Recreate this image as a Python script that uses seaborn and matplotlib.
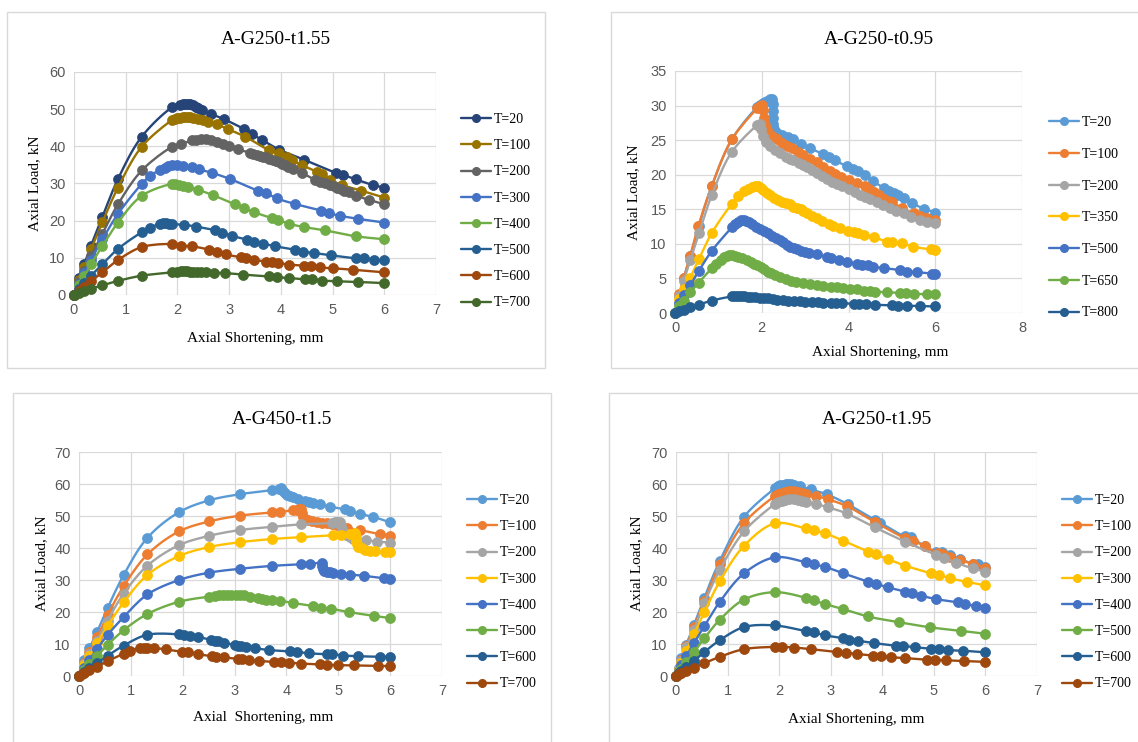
import numpy as np
import matplotlib
matplotlib.use("Agg")
import matplotlib.pyplot as plt
from matplotlib.lines import Line2D
from matplotlib.patches import Rectangle
import seaborn as sns

# ---------------- A-G250-t1.55 (axial shortening mm, axial load kN) ----------------
g155_t20 = [(0,0),(0.1,4.5),(0.2,8.3),(0.33,13.3),(0.55,21.0),(0.85,31.2),(1.31,42.6),(1.9,50.5),(2.05,51.2),(2.1,51.4),(2.15,51.5),(2.2,51.4),(2.25,51.3),(2.3,51.0),(2.35,50.7),(2.4,50.3),(2.48,49.7),(2.65,48.7),(2.9,47.3),(3.28,44.7),(3.44,43.3),(3.64,41.7),(3.97,39.1),(4.45,36.4),(5.06,32.9),(5.21,32.3),(5.45,31.1),(5.78,29.6),(6.0,28.9)]
g155_t100 = [(0,0),(0.1,4.0),(0.2,7.6),(0.33,12.3),(0.55,19.6),(0.85,28.9),(1.31,39.9),(1.9,47.1),(1.95,47.4),(2.0,47.6),(2.05,47.7),(2.1,47.8),(2.15,47.9),(2.2,47.9),(2.25,47.8),(2.3,47.7),(2.4,47.4),(2.5,47.0),(2.6,46.5),(2.76,45.9),(2.97,44.7),(3.31,42.6),(3.78,38.9),(3.97,38.1),(4.11,37.2),(4.21,36.3),(4.4,35.0),(4.69,33.2),(4.79,32.6),(4.95,31.0),(5.18,29.6),(5.55,28.1),(6.0,26.2)]
g155_t200 = [(0,0),(0.1,3.4),(0.2,6.5),(0.33,10.5),(0.55,16.5),(0.85,24.4),(1.31,33.5),(1.9,39.9),(2.06,40.6),(2.28,41.6),(2.35,41.8),(2.45,41.9),(2.55,41.9),(2.65,41.7),(2.76,41.3),(2.88,40.6),(2.99,40.1),(3.17,39.2),(3.4,38.3),(3.47,37.9),(3.53,37.7),(3.6,37.4),(3.66,37.2),(3.72,37.0),(3.78,36.7),(3.84,36.4),(3.9,36.1),(3.96,35.7),(4.02,35.3),(4.08,34.9),(4.14,34.4),(4.24,33.8),(4.4,32.9),(4.66,31.0),(4.76,30.5),(4.85,30.0),(4.95,29.6),(5.02,29.2),(5.09,28.8),(5.16,28.4),(5.23,28.0),(5.31,27.6),(5.45,26.7),(5.71,25.6),(6.0,24.4)]
g155_t300 = [(0,0),(0.1,3.0),(0.2,5.8),(0.33,9.5),(0.55,15.0),(0.85,21.8),(1.31,29.9),(1.46,31.9),(1.66,33.7),(1.75,34.3),(1.82,34.7),(1.9,35.0),(2.0,34.9),(2.11,34.7),(2.28,34.5),(2.42,33.8),(2.66,32.9),(3.02,31.2),(3.55,28.1),(3.71,27.4),(3.92,26.0),(4.27,24.5),(4.78,22.7),(4.93,22.0),(5.15,21.3),(5.49,20.5),(6.0,19.5)]
g155_t400 = [(0,0),(0.1,2.6),(0.2,5.0),(0.33,8.3),(0.55,13.2),(0.85,19.5),(1.31,26.7),(1.9,29.9),(1.96,29.8),(2.03,29.6),(2.1,29.3),(2.21,29.0),(2.4,28.3),(2.68,26.9),(3.11,24.4),(3.28,23.4),(3.48,22.3),(3.82,20.7),(3.95,20.2),(4.15,19.2),(4.44,18.3),(4.85,17.4),(5.45,15.8),(6.0,15.0)]
g155_t500 = [(0,0),(0.1,1.6),(0.2,3.2),(0.33,5.2),(0.55,8.3),(0.85,12.4),(1.31,16.9),(1.46,18.0),(1.66,19.2),(1.72,19.3),(1.78,19.3),(1.84,19.2),(1.9,19.1),(2.13,18.9),(2.36,18.4),(2.73,17.4),(2.86,16.8),(3.05,15.9),(3.35,14.9),(3.48,14.3),(3.65,13.8),(3.89,13.1),(4.27,12.2),(4.42,11.7),(4.64,11.3),(4.96,10.7),(5.45,9.9),(5.6,9.9),(5.8,9.5),(6.0,9.3)]
g155_t600 = [(0,0),(0.1,1.1),(0.2,2.2),(0.33,3.7),(0.55,6.1),(0.85,9.4),(1.31,12.9),(1.9,13.7),(2.06,13.3),(2.28,13.1),(2.62,12.2),(2.76,11.7),(2.93,10.9),(3.22,10.2),(3.33,9.9),(3.48,9.5),(3.71,9.0),(3.82,8.9),(3.95,8.6),(4.15,8.2),(4.44,7.9),(4.58,7.7),(4.75,7.4),(5.0,7.2),(5.39,6.8),(6.0,6.1)]
g155_t700 = [(0,0),(0.1,0.6),(0.2,1.1),(0.33,1.7),(0.55,2.6),(0.85,3.8),(1.31,5.2),(1.9,6.1),(2.0,6.3),(2.06,6.4),(2.12,6.4),(2.18,6.4),(2.24,6.3),(2.3,6.3),(2.38,6.2),(2.46,6.2),(2.55,6.1),(2.7,6.0),(2.92,5.9),(3.26,5.5),(3.78,5.0),(3.92,4.8),(4.15,4.6),(4.47,4.2),(4.6,4.2),(4.79,3.9),(5.08,3.7),(5.5,3.5),(6.0,3.2)]
g155_labels = ["T=20", "T=100", "T=200", "T=300", "T=400", "T=500", "T=600", "T=700"]

# ---------------- A-G250-t0.95 ----------------
g095_t20 = [(0,0),(0.1,2.4),(0.2,5.0),(0.35,8.2),(0.55,12.6),(0.85,18.4),(1.31,25.1),(1.9,29.8),(1.97,30.1),(2.03,30.3),(2.08,30.5),(2.13,30.7),(2.18,30.9),(2.23,31.0),(2.25,30.2),(2.25,29.2),(2.26,28.2),(2.26,27.3),(2.28,26.6),(2.35,26.1),(2.46,25.8),(2.6,25.4),(2.73,25.1),(2.9,24.5),(3.12,23.8),(3.42,23.0),(3.55,22.6),(3.69,22.1),(3.96,21.2),(4.1,20.8),(4.23,20.5),(4.38,19.9),(4.56,19.1),(4.81,18.1),(4.93,17.7),(5.04,17.3),(5.15,17.0),(5.27,16.6),(5.46,15.9),(5.73,15.1),(6.0,14.5)]
g095_t100 = [(0,0),(0.1,2.7),(0.2,5.0),(0.35,8.2),(0.54,12.6),(0.85,18.4),(1.31,25.1),(1.9,29.6),(1.96,29.9),(2.0,30.1),(2.03,29.3),(2.05,28.2),(2.08,27.2),(2.13,26.5),(2.23,25.6),(2.35,25.1),(2.47,24.6),(2.58,24.2),(2.7,23.8),(2.83,23.3),(2.96,22.8),(3.12,22.3),(3.27,21.8),(3.42,21.1),(3.58,20.5),(3.7,20.1),(3.82,19.7),(4.0,19.3),(4.2,18.8),(4.38,18.4),(4.48,17.9),(4.58,17.5),(4.7,17.0),(4.81,16.5),(4.9,16.2),(5.0,16.0),(5.23,15.2),(5.5,14.4),(5.65,14.0),(5.81,13.7),(6.0,13.4)]
g095_t200 = [(0,0),(0.1,2.4),(0.2,4.6),(0.35,7.6),(0.55,11.5),(0.85,17.1),(1.31,23.3),(1.9,27.2),(1.95,27.4),(1.99,26.6),(2.04,25.6),(2.1,24.8),(2.19,24.1),(2.3,23.6),(2.42,23.1),(2.55,22.6),(2.65,22.3),(2.73,22.1),(2.85,21.7),(2.95,21.4),(3.04,21.1),(3.15,20.7),(3.27,20.2),(3.38,19.8),(3.5,19.4),(3.62,18.9),(3.73,18.6),(3.85,18.3),(4.0,17.9),(4.15,17.5),(4.27,17.1),(4.38,16.8),(4.5,16.5),(4.65,16.1),(4.8,15.6),(4.96,15.2),(5.1,14.8),(5.27,14.4),(5.45,13.9),(5.65,13.5),(5.82,13.2),(6.0,13.0)]
g095_t350 = [(0,0),(0.1,2.0),(0.2,3.4),(0.35,5.1),(0.55,7.8),(0.85,11.6),(1.31,15.8),(1.46,16.9),(1.6,17.6),(1.69,17.9),(1.77,18.2),(1.85,18.4),(1.92,18.3),(1.98,18.1),(2.04,17.8),(2.12,17.4),(2.2,17.0),(2.28,16.7),(2.37,16.4),(2.46,16.1),(2.55,15.9),(2.64,15.7),(2.73,15.4),(2.82,15.2),(2.9,15.0),(2.96,14.7),(3.05,14.4),(3.15,14.1),(3.27,13.7),(3.4,13.3),(3.54,12.9),(3.65,12.6),(3.81,12.3),(3.98,11.9),(4.12,11.7),(4.22,11.5),(4.35,11.3),(4.58,11.0),(4.88,10.3),(5.0,10.2),(5.23,10.1),(5.48,9.6),(5.9,9.2),(6.0,9.1)]
g095_t500 = [(0,0),(0.1,1.5),(0.2,2.6),(0.35,4.0),(0.55,6.1),(0.85,9.0),(1.31,12.4),(1.38,12.9),(1.45,13.2),(1.52,13.4),(1.58,13.4),(1.64,13.3),(1.7,13.1),(1.78,12.8),(1.87,12.5),(1.96,12.1),(2.05,11.8),(2.14,11.5),(2.23,11.2),(2.32,10.9),(2.41,10.6),(2.5,10.2),(2.58,9.9),(2.66,9.6),(2.74,9.4),(2.81,9.2),(2.9,9.0),(3.0,8.8),(3.1,8.7),(3.27,8.5),(3.5,8.1),(3.6,8.0),(3.77,7.7),(3.96,7.4),(4.2,7.1),(4.31,7.0),(4.45,6.9),(4.56,6.7),(4.81,6.5),(5.19,6.2),(5.35,6.0),(5.58,5.9),(5.92,5.7),(6.0,5.7)]
g095_t650 = [(0,0),(0.1,1.0),(0.2,1.8),(0.35,3.0),(0.55,4.4),(0.85,6.5),(0.95,7.1),(1.05,7.7),(1.12,8.1),(1.19,8.3),(1.25,8.4),(1.31,8.4),(1.38,8.3),(1.46,8.1),(1.55,7.9),(1.65,7.7),(1.75,7.4),(1.83,7.1),(1.9,6.9),(1.98,6.6),(2.06,6.3),(2.14,6.0),(2.22,5.8),(2.31,5.5),(2.42,5.2),(2.55,4.9),(2.68,4.7),(2.8,4.5),(2.95,4.3),(3.12,4.2),(3.27,4.0),(3.42,3.9),(3.6,3.8),(3.73,3.7),(3.88,3.6),(4.04,3.5),(4.2,3.4),(4.35,3.2),(4.5,3.2),(4.62,3.1),(4.88,3.0),(5.19,2.9),(5.32,2.9),(5.5,2.8),(5.81,2.7),(6.0,2.7)]
g095_t800 = [(0,0),(0.1,0.3),(0.2,0.5),(0.35,0.8),(0.55,1.2),(0.85,1.8),(1.31,2.4),(1.38,2.45),(1.45,2.45),(1.52,2.45),(1.6,2.4),(1.68,2.35),(1.76,2.3),(1.85,2.25),(1.95,2.2),(2.05,2.15),(2.15,2.1),(2.25,2.05),(2.35,1.95),(2.48,1.9),(2.6,1.8),(2.75,1.75),(2.88,1.7),(3.0,1.65),(3.15,1.6),(3.3,1.55),(3.42,1.5),(3.6,1.45),(3.72,1.45),(3.85,1.4),(4.12,1.35),(4.25,1.3),(4.4,1.3),(4.6,1.2),(5.0,1.1),(5.15,1.05),(5.35,1.05),(5.65,1.0),(6.0,0.95)]
g095_labels = ["T=20", "T=100", "T=200", "T=350", "T=500", "T=650", "T=800"]

# ---------------- A-G450-t1.5 ----------------
g450_t20 = [(0,0),(0.1,5.0),(0.2,8.6),(0.35,13.8),(0.55,21.2),(0.86,31.5),(1.32,43.2),(1.93,51.2),(2.51,54.9),(3.1,56.8),(3.72,58.1),(3.85,58.5),(3.9,58.6),(3.93,57.8),(3.97,57.1),(4.02,56.6),(4.07,56.2),(4.13,55.9),(4.22,55.4),(4.36,54.8),(4.44,54.4),(4.51,54.0),(4.65,53.6),(4.84,52.9),(5.13,52.1),(5.23,51.5),(5.41,50.7),(5.66,49.8),(6.0,48.0)]
g450_t100 = [(0,0),(0.1,4.2),(0.2,7.5),(0.35,12.2),(0.55,19.0),(0.86,28.0),(1.32,38.0),(1.93,45.2),(2.51,48.3),(3.1,50.1),(3.72,51.1),(3.88,51.3),(4.13,51.8),(4.2,52.0),(4.25,52.1),(4.29,52.3),(4.3,51.0),(4.31,49.8),(4.36,49.2),(4.42,48.9),(4.5,48.5),(4.58,48.2),(4.68,47.9),(4.78,47.7),(4.88,47.4),(4.97,47.2),(5.16,46.1),(5.41,45.6),(5.81,44.3),(6.0,43.9)]
g450_t200 = [(0,0),(0.1,3.8),(0.2,6.8),(0.35,11.0),(0.55,17.3),(0.86,25.7),(1.32,34.5),(1.93,40.9),(2.51,43.8),(3.1,45.6),(3.72,46.6),(4.29,47.4),(4.88,47.8),(4.93,48.0),(4.98,48.1),(5.03,48.2),(5.05,47.0),(5.07,45.9),(5.1,45.0),(5.15,44.2),(5.22,43.3),(5.29,42.7),(5.54,42.4),(5.74,42.0),(6.0,41.7)]
g450_t300 = [(0,0),(0.1,3.3),(0.2,6.1),(0.35,10.3),(0.55,15.6),(0.86,23.0),(1.32,31.6),(1.93,37.5),(2.51,40.3),(3.1,41.8),(3.72,42.8),(4.29,43.4),(4.9,44.0),(5.05,44.0),(5.22,44.3),(5.32,44.6),(5.34,43.5),(5.35,42.3),(5.36,41.2),(5.38,40.3),(5.45,39.9),(5.52,39.5),(5.62,39.2),(5.71,39.0),(5.9,38.8),(6.0,38.6)]
g450_t400 = [(0,0),(0.1,2.6),(0.2,5.0),(0.35,8.5),(0.55,12.8),(0.86,18.4),(1.32,25.5),(1.93,30.0),(2.51,32.3),(3.1,33.5),(3.72,34.4),(4.29,34.9),(4.46,34.9),(4.68,35.4),(4.69,34.3),(4.7,33.3),(4.73,32.8),(4.78,32.6),(4.84,32.4),(4.9,32.2),(5.05,32.0),(5.23,31.7),(5.5,31.3),(5.89,30.5),(6.0,30.3)]
g450_t500 = [(0,0),(0.1,2.0),(0.2,3.8),(0.35,6.3),(0.55,9.7),(0.86,14.3),(1.32,19.4),(1.93,23.2),(2.51,24.8),(2.62,25.0),(2.7,25.2),(2.78,25.3),(2.86,25.3),(2.94,25.3),(3.02,25.3),(3.1,25.3),(3.18,25.2),(3.3,24.8),(3.45,24.3),(3.52,24.0),(3.6,23.8),(3.72,23.7),(3.88,23.5),(4.13,22.8),(4.51,21.9),(4.66,21.4),(4.86,21.0),(5.2,20.0),(5.68,18.8),(6.0,18.1)]
g450_t600 = [(0,0),(0.1,1.3),(0.2,2.5),(0.35,4.0),(0.55,6.3),(0.86,9.5),(1.32,12.9),(1.93,13.0),(2.03,12.8),(2.15,12.5),(2.3,12.2),(2.54,11.3),(2.62,11.0),(2.68,10.8),(2.8,10.4),(3.0,9.7),(3.07,9.5),(3.12,9.3),(3.23,9.1),(3.39,8.7),(3.67,8.1),(4.06,7.7),(4.2,7.5),(4.44,7.1),(4.78,6.8),(4.88,6.8),(5.09,6.4),(5.38,6.2),(5.81,6.0),(6.0,6.0)]
g450_t700 = [(0,0),(0.05,0.6),(0.1,1.0),(0.2,1.8),(0.35,2.9),(0.55,4.6),(0.86,7.0),(0.98,7.9),(1.17,8.7),(1.25,8.8),(1.32,8.8),(1.45,8.8),(1.67,8.3),(1.98,7.6),(2.1,7.4),(2.29,6.8),(2.56,6.2),(2.64,6.0),(2.8,5.8),(3.07,5.3),(3.15,5.2),(3.28,5.0),(3.48,4.7),(3.76,4.4),(3.89,4.3),(4.04,4.2),(4.28,3.9),(4.65,3.6),(4.79,3.5),(4.99,3.4),(5.31,3.3),(5.76,3.2),(6.0,3.1)]
g450_labels = ["T=20", "T=100", "T=200", "T=300", "T=400", "T=500", "T=600", "T=700"]

# ---------------- A-G250-t1.95 ----------------
g195_t20 = [(0,0),(0.05,2.5),(0.1,5.5),(0.2,9.8),(0.35,16.0),(0.55,24.5),(0.85,36.0),(1.32,49.8),(1.92,58.7),(1.97,59.3),(2.02,59.6),(2.08,59.8),(2.13,59.9),(2.18,60.0),(2.23,59.9),(2.28,59.8),(2.4,59.3),(2.61,58.3),(2.92,56.8),(3.34,53.6),(3.85,48.8),(3.96,47.9),(4.44,43.6),(4.56,43.3),(4.82,40.5),(5.05,38.6),(5.15,38.6),(5.31,37.9),(5.5,36.7),(5.76,35.0),(5.86,34.9),(6.0,34.2)]
g195_t100 = [(0,0),(0.05,2.3),(0.1,5.0),(0.2,9.3),(0.35,15.2),(0.55,23.5),(0.85,34.9),(1.32,47.8),(1.92,56.3),(1.98,56.9),(2.05,57.3),(2.12,57.6),(2.2,57.7),(2.28,57.7),(2.36,57.5),(2.45,57.2),(2.53,56.8),(2.72,56.2),(2.95,55.2),(3.31,53.1),(3.85,48.2),(4.44,43.1),(4.6,42.3),(4.82,40.6),(5.08,38.4),(5.18,38.1),(5.31,37.3),(5.5,36.3),(5.76,35.0),(6.0,33.9)]
g195_t200 = [(0,0),(0.05,2.2),(0.1,4.8),(0.2,9.0),(0.35,14.5),(0.55,22.8),(0.85,33.2),(1.32,45.2),(1.92,53.8),(1.98,54.4),(2.05,54.8),(2.12,55.1),(2.2,55.2),(2.28,55.2),(2.36,55.1),(2.45,54.8),(2.53,54.3),(2.72,53.7),(2.95,52.7),(3.31,50.8),(3.85,46.5),(4.44,42.0),(5.05,37.8),(5.2,36.9),(5.43,35.4),(5.76,33.6),(6.0,32.6)]
g195_t300 = [(0,0),(0.05,2.0),(0.1,4.2),(0.2,7.8),(0.35,13.0),(0.55,20.0),(0.85,29.6),(1.32,40.7),(1.92,47.7),(2.52,46.1),(2.67,45.6),(2.89,44.6),(3.24,42.3),(3.72,38.9),(3.87,38.0),(4.11,36.5),(4.44,34.5),(4.95,32.1),(5.1,31.6),(5.32,30.5),(5.65,29.4),(6.0,28.3)]
g195_t400 = [(0,0),(0.05,1.6),(0.1,3.3),(0.2,6.2),(0.35,10.3),(0.55,15.6),(0.85,23.2),(1.32,32.1),(1.92,37.1),(2.52,35.5),(2.67,34.9),(2.89,34.1),(3.24,32.1),(3.72,29.5),(3.87,28.8),(4.11,27.7),(4.44,26.4),(4.58,26.0),(4.76,25.1),(5.05,24.0),(5.47,23.0),(5.6,22.5),(5.81,21.9),(6.0,21.4)]
g195_t500 = [(0,0),(0.05,1.1),(0.1,2.3),(0.2,4.4),(0.35,7.5),(0.55,11.8),(0.85,17.6),(1.32,23.9),(1.92,26.2),(2.52,24.4),(2.67,23.6),(2.89,22.5),(3.24,20.9),(3.72,18.6),(4.33,16.8),(4.93,15.2),(5.53,14.1),(6.0,13.2)]
g195_t600 = [(0,0),(0.05,0.8),(0.1,1.5),(0.2,2.9),(0.35,4.8),(0.55,7.5),(0.85,11.2),(1.32,15.3),(1.92,15.8),(2.52,14.0),(2.67,13.6),(2.89,12.7),(3.24,11.8),(3.36,11.3),(3.53,11.0),(3.83,10.3),(4.26,9.5),(4.4,9.4),(4.63,9.0),(4.95,8.5),(5.1,8.3),(5.27,8.1),(5.56,7.9),(6.0,7.4)]
g195_t700 = [(0,0),(0.05,0.5),(0.1,0.9),(0.2,1.6),(0.35,2.6),(0.55,4.0),(0.85,6.0),(1.32,8.4),(1.92,9.1),(2.06,9.1),(2.29,8.9),(2.61,8.4),(3.12,7.5),(3.29,7.3),(3.5,6.9),(3.82,6.4),(3.97,6.3),(4.16,5.9),(4.44,5.6),(4.87,5.1),(5.02,5.1),(5.24,4.9),(5.58,4.7),(6.0,4.4)]
g195_labels = ["T=20", "T=100", "T=200", "T=300", "T=400", "T=500", "T=600", "T=700"]

# Office-style series colours
dark_palette = ["#264478", "#997300", "#636363", "#4472C4", "#70AD47", "#255E91", "#9E480E", "#43682B"]
std_palette = ["#5B9BD5", "#ED7D31", "#A5A5A5", "#FFC000", "#4472C4", "#70AD47", "#255E91", "#9E480E"]

W, H = 1138, 742
sns.set_theme(style="white")
plt.rcParams["font.family"] = ["Liberation Serif", "DejaVu Serif"]

fig = plt.figure(figsize=(W / 100, H / 100), dpi=100)
fig.patch.set_facecolor("white")


def fx(px):
    return px / W


def fy(py):
    return 1 - py / H


def smooth_path(pts, sx, sy, n=10):
    """Centripetal Catmull-Rom path through the measured points (scaled to screen units)."""
    p = np.array(pts, dtype=float) * [sx, sy]
    if len(p) < 3:
        return p[:, 0] / sx, p[:, 1] / sy
    P = np.vstack([2 * p[0] - p[1], p, 2 * p[-1] - p[-2]])
    out = [p[0]]
    for i in range(1, len(P) - 2):
        p0, p1, p2, p3 = P[i - 1], P[i], P[i + 1], P[i + 2]
        t0 = 0.0
        t1 = t0 + max(np.linalg.norm(p1 - p0), 1e-6) ** 0.5
        t2 = t1 + max(np.linalg.norm(p2 - p1), 1e-6) ** 0.5
        t3 = t2 + max(np.linalg.norm(p3 - p2), 1e-6) ** 0.5
        for t in np.linspace(t1, t2, n + 1)[1:]:
            a1 = (t1 - t) / (t1 - t0) * p0 + (t - t0) / (t1 - t0) * p1
            a2 = (t2 - t) / (t2 - t1) * p1 + (t - t1) / (t2 - t1) * p2
            a3 = (t3 - t) / (t3 - t2) * p2 + (t - t2) / (t3 - t2) * p3
            b1 = (t2 - t) / (t2 - t0) * a1 + (t - t0) / (t2 - t0) * a2
            b2 = (t3 - t) / (t3 - t1) * a2 + (t - t1) / (t3 - t1) * a3
            c = (t2 - t) / (t2 - t1) * b1 + (t - t1) / (t2 - t1) * b2
            out.append(c)
    out = np.array(out)
    return out[:, 0] / sx, out[:, 1] / sy


panels = [
    dict(box=(7, 12, 545, 368), axes=(74, 72, 436, 295), xmax=7, xstep=1, ymax=60, ystep=10,
         series=[g155_t20, g155_t100, g155_t200, g155_t300, g155_t400, g155_t500, g155_t600, g155_t700],
         labels=g155_labels, colors=dark_palette, title="A-G250-t1.55", title_xy=(276, 40),
         xlabel="Axial Shortening, mm", xlabel_xy=(255, 338), ylabel_xy=(35, 183),
         legend_xy=(461, 113), legend_space=0.95),
    dict(box=(611, 12, 1147, 368), axes=(675, 71, 1022, 313), xmax=8, xstep=2, ymax=35, ystep=5,
         series=[g095_t20, g095_t100, g095_t200, g095_t350, g095_t500, g095_t650, g095_t800],
         labels=g095_labels, colors=std_palette[:7], title="A-G250-t0.95", title_xy=(879, 40),
         xlabel="Axial Shortening, mm", xlabel_xy=(880, 352), ylabel_xy=(634, 192),
         legend_xy=(1049, 116), legend_space=1.35),
    dict(box=(13, 393, 551, 750), axes=(79, 452, 442, 676), xmax=7, xstep=1, ymax=70, ystep=10,
         series=[g450_t20, g450_t100, g450_t200, g450_t300, g450_t400, g450_t500, g450_t600, g450_t700],
         labels=g450_labels, colors=std_palette, title="A-G450-t1.5", title_xy=(282, 420),
         xlabel="Axial  Shortening, mm", xlabel_xy=(263, 718), ylabel_xy=(42, 563),
         legend_xy=(467, 494), legend_space=0.95),
    dict(box=(609, 393, 1145, 750), axes=(676, 452, 1037, 676), xmax=7, xstep=1, ymax=70, ystep=10,
         series=[g195_t20, g195_t100, g195_t200, g195_t300, g195_t400, g195_t500, g195_t600, g195_t700],
         labels=g195_labels, colors=std_palette, title="A-G250-t1.95", title_xy=(877, 420),
         xlabel="Axial Shortening, mm", xlabel_xy=(856, 719), ylabel_xy=(637, 563),
         legend_xy=(1062, 494), legend_space=0.95),
]

grid_col = "#D9D9D9"
tick_col = "#595959"

for pn in panels:
    bx0, by0, bx1, by1 = pn["box"]
    fig.patches.append(Rectangle((fx(bx0), fy(by1)), fx(bx1 - bx0), (by1 - by0) / H,
                                 transform=fig.transFigure, fill=False,
                                 edgecolor=grid_col, linewidth=1.0, zorder=0))
    ax0, ay0, ax1, ay1 = pn["axes"]
    ax = fig.add_axes([fx(ax0), fy(ay1), fx(ax1 - ax0), (ay1 - ay0) / H])
    ax.set_facecolor("none")
    ax.set_xlim(0, pn["xmax"])
    ax.set_ylim(0, pn["ymax"])
    ax.set_xticks(np.arange(0, pn["xmax"] + 0.01, pn["xstep"]))
    ax.set_yticks(np.arange(0, pn["ymax"] + 0.01, pn["ystep"]))
    ax.grid(True, color=grid_col, linewidth=0.9)
    ax.set_axisbelow(True)
    for s in ax.spines.values():
        s.set_visible(False)
    ax.tick_params(length=0, labelsize=10.5, labelcolor=tick_col, pad=6)
    for lab in ax.get_xticklabels() + ax.get_yticklabels():
        lab.set_fontfamily("Liberation Sans")
    sx = (ax1 - ax0) / pn["xmax"]
    sy = (ay1 - ay0) / pn["ymax"]

    handles = []
    for i, (pts, col) in enumerate(zip(pn["series"], pn["colors"])):
        xs, ys = smooth_path(pts, sx, sy)
        sns.lineplot(x=xs, y=ys, sort=False, estimator=None, color=col, linewidth=1.7,
                     ax=ax, zorder=3 + i, clip_on=False)
        px = [q[0] for q in pts]
        py = [q[1] for q in pts]
        sns.scatterplot(x=px, y=py, color=col, s=52, edgecolor=col, linewidth=0.5,
                        ax=ax, zorder=3 + i, clip_on=False, legend=False)
        handles.append(Line2D([], [], color=col, linewidth=1.7, marker="o",
                              markersize=5.5, markeredgecolor=col))
    ax.set_xlabel("")
    ax.set_ylabel("")

    fig.legend(handles, pn["labels"], loc="upper left",
               bbox_to_anchor=(fx(pn["legend_xy"][0]), fy(pn["legend_xy"][1])),
               bbox_transform=fig.transFigure, frameon=False,
               prop={"family": "Liberation Serif", "size": 10},
               handlelength=2.15, handletextpad=0.2, labelspacing=pn["legend_space"],
               borderpad=0, borderaxespad=0, labelcolor="black")

    fig.text(fx(pn["title_xy"][0]), fy(pn["title_xy"][1]), pn["title"], ha="center", va="center",
             fontsize=14, color="black")
    fig.text(fx(pn["xlabel_xy"][0]), fy(pn["xlabel_xy"][1]), pn["xlabel"], ha="center", va="center",
             fontsize=11, color="black")
    fig.text(fx(pn["ylabel_xy"][0]), fy(pn["ylabel_xy"][1]), "Axial Load, kN", ha="center", va="center",
             fontsize=11, color="black", rotation=90)

fig.savefig("out.png", dpi=100, facecolor="white")
